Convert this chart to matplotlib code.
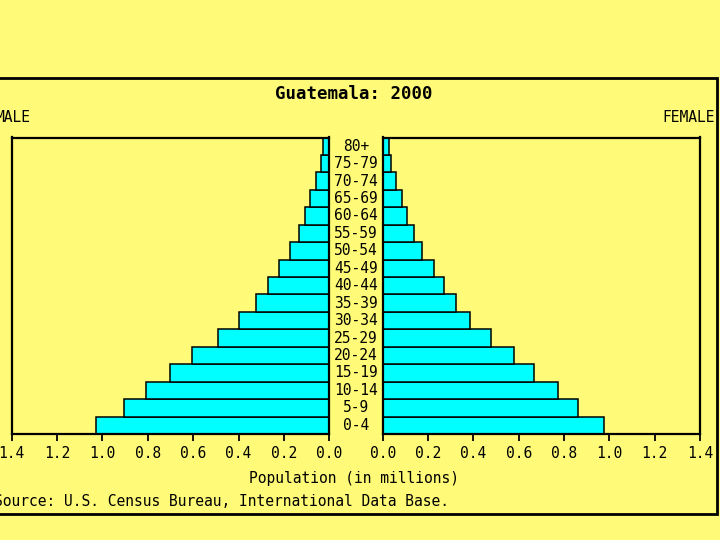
import matplotlib.pyplot as plt
import matplotlib.patches as mpatches
import numpy as np

# ---------------------------------------------------------------------------
# DATA (population in millions)
# ---------------------------------------------------------------------------
age_groups = ["0-4", "5-9", "10-14", "15-19", "20-24", "25-29", "30-34",
              "35-39", "40-44", "45-49", "50-54", "55-59", "60-64",
              "65-69", "70-74", "75-79", "80+"]
male = [1.028, 0.906, 0.809, 0.701, 0.606, 0.489, 0.397, 0.324, 0.271,
        0.220, 0.172, 0.132, 0.108, 0.086, 0.060, 0.037, 0.029]
female = [0.978, 0.862, 0.775, 0.669, 0.581, 0.478, 0.387, 0.324, 0.272,
          0.228, 0.175, 0.138, 0.107, 0.087, 0.060, 0.037, 0.029]
x_ticks = [0.0, 0.2, 0.4, 0.6, 0.8, 1.0, 1.2, 1.4]

# ---------------------------------------------------------------------------
# STYLE
# ---------------------------------------------------------------------------
BG = "#fffb78"
BAR = "#00ffff"
FONT = "DejaVu Sans Mono"
FS = 10.5

plt.rcParams["font.family"] = FONT

fig = plt.figure(figsize=(7.2, 5.4), dpi=100)
fig.patch.set_facecolor(BG)

W, H = 720.0, 540.0
bottom = 1 - 434 / H
height = (434 - 137.5) / H
ax_l = fig.add_axes([11.7 / W, bottom, 317.6 / W, height])
ax_r = fig.add_axes([382.7 / W, bottom, 317.3 / W, height])

y = np.arange(len(age_groups))

for ax, vals in ((ax_l, male), (ax_r, female)):
    ax.set_facecolor(BG)
    ax.barh(y, vals, height=1.0, color=BAR, edgecolor="black",
            linewidth=1.1, zorder=2)
    ax.set_ylim(-0.5, len(age_groups) - 0.5)
    ax.set_yticks([])
    ax.set_xticks(x_ticks)
    ax.set_xticklabels([f"{t:.1f}" for t in x_ticks], fontsize=FS)
    ax.tick_params(axis="x", direction="out", length=5, width=1.3, pad=4)
    for sp in ax.spines.values():
        sp.set_linewidth(1.6)

ax_l.set_xlim(1.4, 0.0)
ax_r.set_xlim(0.0, 1.4)

# age labels between the panels
for i, lab in enumerate(age_groups):
    yy = bottom + (i + 0.5) / len(age_groups) * height
    fig.text(356 / W, yy, lab, ha="center", va="center", fontsize=FS)

# outer frame (left edge runs off the picture, as in the original slide)
frame = mpatches.Rectangle((-0.02, 1 - 514 / H), 716.5 / W + 0.02,
                           (514 - 78) / H, transform=fig.transFigure,
                           fill=False, edgecolor="black", linewidth=2)
fig.add_artist(frame)

fig.text(353.5 / W, 1 - 94 / H, "Guatemala: 2000", ha="center",
         va="center", fontsize=12.5, fontweight="bold")
fig.text(-5 / W, 1 - 118 / H, "MALE", ha="left", va="center", fontsize=FS)
fig.text(715 / W, 1 - 118 / H, "FEMALE", ha="right", va="center",
         fontsize=FS)
fig.text(354 / W, 1 - 478 / H, "Population (in millions)", ha="center",
         va="center", fontsize=FS)
fig.text(-6 / W, 1 - 502 / H,
         "Source: U.S. Census Bureau, International Data Base.",
         ha="left", va="center", fontsize=FS)

fig.savefig("out.png", dpi=100, facecolor=BG)
